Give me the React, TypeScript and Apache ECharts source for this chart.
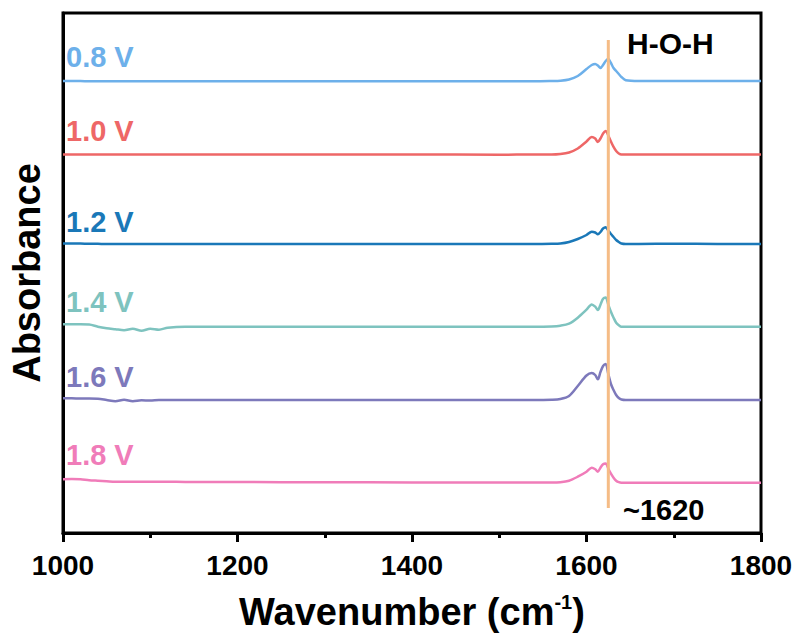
import React, { useEffect, useRef } from "react";
import * as echarts from "echarts";

// Wavenumber sample points (cm^-1)
const wavenumbers = [
  1000, 1010, 1020, 1030, 1040, 1050, 1060, 1070, 1080, 1090, 1100, 1110, 1120, 1140, 1160,
  1200, 1300, 1400, 1500, 1540, 1560, 1570, 1580, 1590, 1600, 1606, 1610, 1613, 1616, 1619,
  1622, 1625, 1628, 1631, 1634, 1637, 1640, 1645, 1660, 1700, 1750, 1800,
];

const seriesNames = ["0.8 V", "1.0 V", "1.2 V", "1.4 V", "1.6 V", "1.8 V"];
const seriesColors = ["#6DB0EA", "#EE6767", "#1A78B8", "#7EC3BF", "#7D79BB", "#F07CB9"];
// vertical stacking offsets (a.u.)
const offsets = [4.52, 3.785, 2.89, 2.063, 1.33, 0.503];

// absorbance relative to baseline (x 0.01 a.u.)
const v08 = [0, 0, 0, -0.3, -0.3, -0.3, -0.3, -0.3, -0.3, -0.3, -0.3, -0.3, -0.3, -0.3, -0.3,
  -0.3, -0.3, -0.3, -0.3, -0.3, 0, 0.3, 1.5, 5, 12, 16, 17, 15.5, 13, 16,
  20, 22, 18, 13, 10, 7, 4, 0.8, 0, 0, 0, 0];
const v10 = [0, 0, 0, 0, 0, 0, 0, 0, 0, 0, 0, 0, 0, 0, 0,
  0, 0, 0, -0.2, 0, 0, 0.5, 2, 6, 13, 17.6, 16, 12.6, 16, 21,
  23.6, 19, 13, 7.6, 3.5, 1, 0, 0, 0, 0, 0, 0];
const v12 = [0.5, 0.5, 0.4, 0.3, 0.2, 0, 0, 0, 0, 0, 0, 0, 0, 0, 0,
  0, 0, 0, 0, 0, 0.2, 0.5, 2, 5, 9, 12.3, 11.5, 9.7, 12, 15.5,
  16.7, 13.5, 10, 7, 4, 2, 0.5, 0, 0, 0.3, 0, 0];
const v14 = [2.4, 2.4, 2.4, 2.2, 0, -1.5, -2.5, -3.5, -2, -4, -2, -3, -1, 0, 0,
  0, 0, 0, 0, 0, 0.3, 1, 3, 9, 17, 22.3, 20, 16.7, 22, 28,
  29.3, 22, 15, 9, 4, 1.5, 0, 0, 0, 0, 0, 0];
const v16 = [1.7, 1.7, 1.5, 1.5, 1.2, 0, -1.2, 0.2, -1.2, -0.3, -0.5, 0, 0, 0, 0,
  0, 0, 0, 0, 0, 0.3, 1, 4, 14, 24.5, 27, 25, 20.7, 28, 34,
  36, 26, 16, 10, 5, 2, 0.5, 0, 0, 0, 0, 0];
const v18 = [3.5, 3.8, 3.5, 2.5, 2, 1.5, 1, 1, 1, 1, 1, 1, 1, 0.8, 0.8,
  0.6, 0.5, 0.3, 0.2, 0.2, 0.2, 0.5, 2, 6, 11, 15, 13.5, 11, 15, 18.5,
  19.3, 14, 9, 5, 2, 0.5, 0, 0, 0, 0, 0, 0];
const spectra = [v08, v10, v12, v14, v16, v18];

const xTicks = [1000, 1200, 1400, 1600, 1800];
const peakPosition = 1625;
const peakLineRange = [0.25, 4.93];

const FONT = "'Liberation Sans', Arial, Helvetica, sans-serif";

export default function App() {
  const ref = useRef<HTMLDivElement>(null);

  useEffect(() => {
    if (!ref.current) return;
    const chart = echarts.init(ref.current, undefined, { renderer: "svg" });

    const lineSeries = spectra.map((vals, i) => ({
      name: seriesNames[i],
      type: "line",
      data: wavenumbers.map((w, k) => [w, offsets[i] + vals[k] / 100]),
      showSymbol: false,
      smooth: 0.3,
      lineStyle: { color: seriesColors[i], width: 2.5 },
      itemStyle: { color: seriesColors[i] },
      z: 2,
    }));

    const labelYs = [57, 131, 222, 302, 377, 455];

    chart.setOption({
      animation: false,
      backgroundColor: "#ffffff",
      grid: { left: 61, right: 36, top: 13, bottom: 103, show: true, borderColor: "#000", borderWidth: 3 },
      xAxis: {
        type: "value",
        min: xTicks[0],
        max: xTicks[xTicks.length - 1],
        interval: 200,
        name: "{a|Wavenumber (cm}{b|-1}{a|)}",
        nameLocation: "middle",
        nameGap: 59,
        nameTextStyle: {
          rich: {
            a: { fontSize: 38, fontWeight: "bold", fontFamily: FONT, color: "#000", lineHeight: 40 },
            b: { fontSize: 20, fontWeight: "bold", fontFamily: FONT, color: "#000", lineHeight: 20, verticalAlign: "top" },
          },
        },
        axisLine: { show: true, lineStyle: { color: "#000", width: 3 } },
        axisTick: { show: true, inside: false, length: 9, lineStyle: { color: "#000", width: 3 } },
        minorTick: { show: true, splitNumber: 2, length: 5, lineStyle: { color: "#000", width: 3 } },
        splitLine: { show: false },
        axisLabel: {
          fontSize: 28,
          fontWeight: "bold",
          fontFamily: FONT,
          color: "#000",
          margin: 18,
          formatter: (v: number) => String(v),
        },
      },
      yAxis: {
        type: "value",
        min: 0,
        max: 5.2,
        name: "Absorbance",
        nameLocation: "middle",
        nameRotate: 90,
        nameGap: 17,
        nameTextStyle: { fontSize: 38, fontWeight: "bold", fontFamily: FONT, color: "#000" },
        axisLine: { show: true, lineStyle: { color: "#000", width: 3 } },
        axisTick: { show: false },
        axisLabel: { show: false },
        splitLine: { show: false },
      },
      series: [
        ...lineSeries,
        {
          name: "peak",
          type: "line",
          data: [[peakPosition, peakLineRange[0]], [peakPosition, peakLineRange[1]]],
          showSymbol: false,
          lineStyle: { color: "#F5BC86", width: 3 },
          z: 5,
        },
      ],
      graphic: [
        ...seriesNames.map((n, i) => ({
          type: "text",
          left: 66,
          top: labelYs[i] - 15,
          style: { text: n, fill: seriesColors[i], font: `bold 29px ${FONT}` },
        })),
        {
          type: "text",
          left: 627,
          top: 28,
          style: { text: "H-O-H", fill: "#000", font: `bold 30px ${FONT}` },
        },
        {
          type: "text",
          left: 623,
          top: 495,
          style: { text: "~1620", fill: "#000", font: `bold 29px ${FONT}` },
        },
      ],
    });

    return () => chart.dispose();
  }, []);

  return (
    <div
      ref={ref}
      style={{ position: "fixed", left: 0, top: 0, width: 797, height: 636, background: "#fff" }}
    />
  );
}
